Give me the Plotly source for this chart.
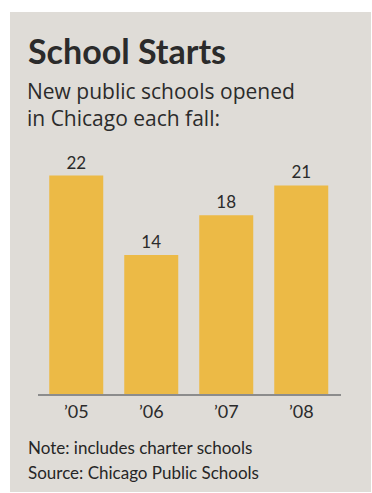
import plotly.graph_objects as go

years = ["\u201905", "\u201906", "\u201907", "\u201908"]
schools = [22, 14, 18, 21]

title_text = "School Starts"
subtitle_text = "New public schools opened<br>in Chicago each fall:"
note_text = "Note: includes charter schools"
source_text = "Source: Chicago Public Schools"

W, H = 372, 493
ML, MR, MT, MB = 38, 31, 165, 99
PW = W - ML - MR
PH = H - MT - MB

def px_x(px):
    return (px - ML) / PW

def px_y(py):
    return (H - MB - py) / PH

BG = "#dfdcd7"
BAR = "#ecba46"
TXT = "#2b2b2b"
LATO = "Lato, sans-serif"

fig = go.Figure()
fig.add_trace(go.Bar(
    x=years, y=schools,
    marker=dict(color=BAR, line=dict(width=0)),
    text=[str(v) for v in schools],
    textposition="outside",
    textfont=dict(family=LATO, size=17, color=TXT),
    cliponaxis=False,
    hoverinfo="skip",
))

fig.add_shape(type="rect", xref="paper", yref="paper",
              x0=px_x(10), x1=px_x(371), y0=px_y(492), y1=px_y(12),
              fillcolor=BG, line=dict(width=0), layer="below")

ann = [
    dict(text=title_text, x=px_x(25.5), y=px_y(27.5),
         font=dict(family=LATO, size=34, color=TXT, weight="bold")),
    dict(text=subtitle_text, x=px_x(25), y=px_y(74.5),
         font=dict(family="Open Sans, sans-serif", size=21, color=TXT)),
    dict(text=note_text, x=px_x(25.5), y=px_y(435),
         font=dict(family=LATO, size=17, color="#262626")),
    dict(text=source_text, x=px_x(25.5), y=px_y(460),
         font=dict(family=LATO, size=17, color="#262626")),
]
for a in ann:
    fig.add_annotation(xref="paper", yref="paper", xanchor="left", yanchor="top",
                       showarrow=False, align="left", **a)

fig.update_layout(
    width=W, height=H,
    margin=dict(l=ML, r=MR, t=MT, b=MB, pad=0),
    paper_bgcolor="white",
    plot_bgcolor="rgba(0,0,0,0)",
    bargap=0.28,
    showlegend=False,
    xaxis=dict(range=[-0.51, 3.53], showgrid=False, zeroline=False,
               showline=True, linecolor="#8c8c8c", linewidth=2,
               ticks="", tickfont=dict(family=LATO, size=18, color=TXT),
               fixedrange=True),
    yaxis=dict(range=[0, PH / 9.93], visible=False, fixedrange=True),
)

fig.write_html("out.html", config={"displayModeBar": False})
